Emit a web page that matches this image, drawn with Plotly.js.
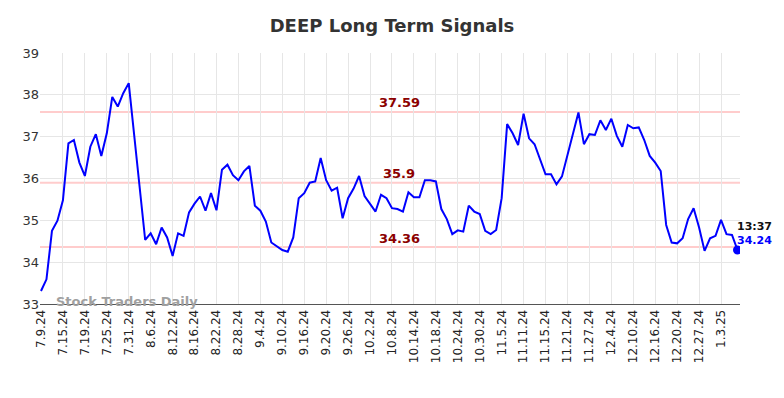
<!DOCTYPE html>
<html>
<head>
<meta charset="utf-8">
<script src="https://cdn.plot.ly/plotly-3.0.1.min.js"></script>
<style>html,body{margin:0;padding:0;background:#fff;}#chart{width:784px;height:398px;}</style>
</head>
<body>
<div id="chart"></div>
<script>
const dates = [
"7.9.24","7.10.24","7.11.24","7.12.24","7.15.24","7.16.24","7.17.24","7.18.24","7.19.24","7.22.24","7.23.24","7.24.24","7.25.24","7.26.24","7.29.24","7.30.24","7.31.24",
"8.1.24","8.2.24","8.5.24","8.6.24","8.7.24","8.8.24","8.9.24","8.12.24","8.13.24","8.14.24","8.15.24","8.16.24","8.19.24","8.20.24","8.21.24","8.22.24","8.23.24","8.26.24","8.27.24","8.28.24","8.29.24","8.30.24",
"9.3.24","9.4.24","9.5.24","9.6.24","9.9.24","9.10.24","9.11.24","9.12.24","9.13.24","9.16.24","9.17.24","9.18.24","9.19.24","9.20.24","9.23.24","9.24.24","9.25.24","9.26.24","9.27.24","9.30.24",
"10.1.24","10.2.24","10.3.24","10.4.24","10.7.24","10.8.24","10.9.24","10.10.24","10.11.24","10.14.24","10.15.24","10.16.24","10.17.24","10.18.24","10.21.24","10.22.24","10.23.24","10.24.24","10.25.24","10.28.24","10.29.24","10.30.24","10.31.24",
"11.1.24","11.4.24","11.5.24","11.6.24","11.7.24","11.8.24","11.11.24","11.12.24","11.13.24","11.14.24","11.15.24","11.18.24","11.19.24","11.20.24","11.21.24","11.22.24","11.25.24","11.26.24","11.27.24","11.29.24",
"12.2.24","12.3.24","12.4.24","12.5.24","12.6.24","12.9.24","12.10.24","12.11.24","12.12.24","12.13.24","12.16.24","12.17.24","12.18.24","12.19.24","12.20.24","12.23.24","12.24.24","12.26.24","12.27.24","12.30.24","12.31.24",
"1.2.25","1.3.25","1.6.25","1.7.25","1.8.25"
];
const prices = [
33.31,33.59,34.75,34.99,35.48,36.84,36.92,36.38,36.06,36.76,37.06,36.54,37.08,37.95,37.72,38.04,38.28,
37.00,35.80,34.53,34.69,34.43,34.83,34.59,34.15,34.69,34.63,35.19,35.40,35.57,35.23,35.65,35.24,36.21,36.33,36.08,35.96,36.17,36.30,
35.35,35.23,34.97,34.47,34.37,34.29,34.25,34.59,35.53,35.65,35.90,35.93,36.49,35.96,35.71,35.78,35.05,35.53,35.76,36.06,
35.58,35.39,35.21,35.61,35.53,35.29,35.27,35.21,35.67,35.55,35.55,35.96,35.96,35.93,35.27,35.03,34.67,34.76,34.73,35.35,35.21,35.15,34.75,
34.67,34.77,35.53,37.30,37.08,36.80,37.55,36.96,36.82,36.44,36.10,36.10,35.86,36.05,36.58,37.08,37.58,36.82,37.06,37.04,
37.39,37.16,37.43,37.02,36.76,37.28,37.20,37.22,36.92,36.54,36.38,36.18,34.89,34.47,34.45,34.57,35.03,35.29,34.83,34.27,34.57,
34.63,35.01,34.67,34.65,34.29
];
const signalLevels = [37.59, 35.9, 34.36];
const signalLabels = ["37.59", "35.9", "34.36"];
const yTicks = [33, 34, 35, 36, 37, 38, 39];
const tickDates = dates.filter((d, i) => i % 4 === 0);
const lastTime = "13:37";
const lastLabel = "34.24";

const n = dates.length;
const traces = [
  {x: dates, y: prices, type: 'scatter', mode: 'lines', line: {color: '#0000ff', width: 2}, hoverinfo: 'skip'},
  {x: [dates[n-1]], y: [prices[n-1]], type: 'scatter', mode: 'markers', marker: {color: '#0000ff', size: 9}, hoverinfo: 'skip'}
];

const shapes = signalLevels.map(v => ({
  type: 'line', xref: 'paper', x0: 0, x1: 1, yref: 'y', y0: v, y1: v,
  line: {color: '#ffcccc', width: 2}, layer: 'below'
}));

const annotations = signalLevels.map((v, i) => ({
  xref: 'paper', x: 0.513, yref: 'y', y: v, yshift: 9, text: '<b>' + signalLabels[i] + '</b>',
  showarrow: false, font: {family: 'DejaVu Sans, sans-serif', size: 13, color: '#8b0000'}
}));
annotations.push({
  xref: 'paper', x: 0.02, xanchor: 'left', yref: 'paper', y: 0.008, yanchor: 'middle',
  text: '<b>Stock Traders Daily</b>', showarrow: false,
  font: {family: 'DejaVu Sans, sans-serif', size: 13, color: '#a0a0a0'}
});
annotations.push({
  xref: 'x', x: n - 1, yref: 'y', y: prices[n-1], xanchor: 'left', yanchor: 'bottom', xshift: -2, yshift: 15,
  text: '<b>' + lastTime + '</b>', showarrow: false,
  font: {family: 'DejaVu Sans, sans-serif', size: 11, color: '#111'}
});
annotations.push({
  xref: 'x', x: n - 1, yref: 'y', y: prices[n-1], xanchor: 'left', yanchor: 'bottom', xshift: -2, yshift: 1,
  text: '<b>' + lastLabel + '</b>', showarrow: false,
  font: {family: 'DejaVu Sans, sans-serif', size: 11, color: '#0000ff'}
});

const layout = {
  width: 784, height: 398,
  margin: {l: 40, r: 44, t: 53, b: 94},
  paper_bgcolor: '#fff', plot_bgcolor: '#fff',
  showlegend: false,
  title: {text: '<b>DEEP Long Term Signals</b>', x: 0.5, xanchor: 'center', y: 0.935, yanchor: 'middle',
          font: {family: 'DejaVu Sans, sans-serif', size: 18, color: '#333'}},
  xaxis: {
    type: 'category', range: [-0.18, 127.46],
    tickmode: 'array', tickvals: tickDates, ticktext: tickDates, tickangle: -90,
    tickfont: {family: 'DejaVu Sans, sans-serif', size: 12, color: '#222'},
    showgrid: true, gridcolor: '#e6e6e6', gridwidth: 1,
    showline: true, linecolor: '#555', linewidth: 1,
    ticks: '', zeroline: false, fixedrange: true
  },
  yaxis: {
    range: [33, 39], tickmode: 'array', tickvals: yTicks,
    tickfont: {family: 'DejaVu Sans, sans-serif', size: 13, color: '#333'},
    showgrid: true, gridcolor: '#e6e6e6', gridwidth: 1,
    showline: false, ticks: '', zeroline: false, fixedrange: true
  },
  shapes: shapes,
  annotations: annotations
};

Plotly.newPlot('chart', traces, layout, {displayModeBar: false, staticPlot: true});
</script>
</body>
</html>
